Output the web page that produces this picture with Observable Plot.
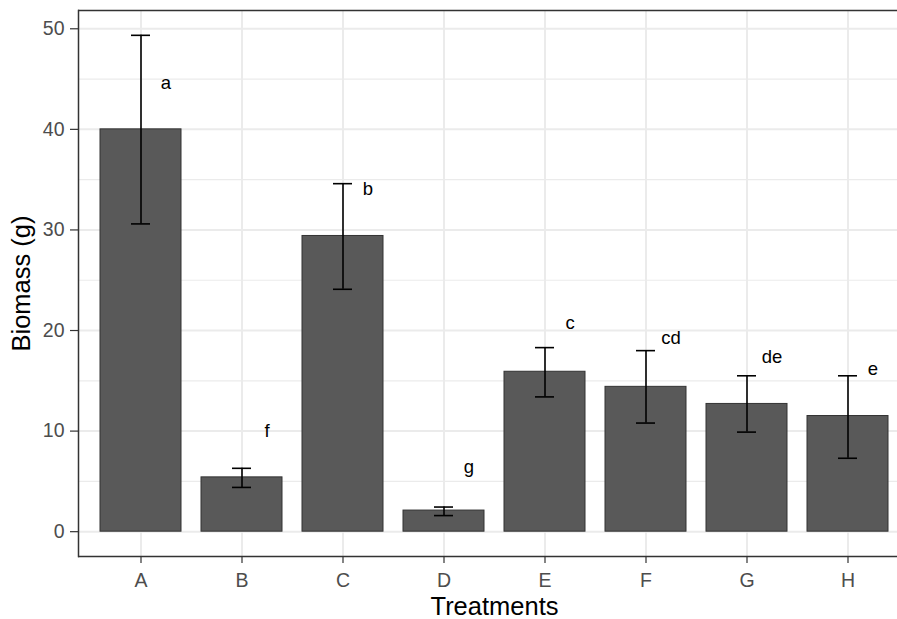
<!DOCTYPE html>
<html>
<head>
<meta charset="utf-8">
<script src="https://cdn.jsdelivr.net/npm/d3@7"></script>
<script src="https://cdn.jsdelivr.net/npm/@observablehq/plot@0.6"></script>
<style>
  html, body { margin: 0; padding: 0; background: #ffffff; overflow: hidden; width: 897px; height: 619px; }
  #chart { width: 897px; height: 619px; overflow: hidden; }
  #chart svg { max-width: none !important; display: block; }
</style>
</head>
<body>
<div id="chart"></div>
<script>
// Data
const treatments = ["A", "B", "C", "D", "E", "F", "G", "H"];
const biomass    = [40.0, 5.4, 29.4, 2.1, 15.9, 14.4, 12.7, 11.5];
const errLow     = [30.6, 4.4, 24.1, 1.6, 13.4, 10.8, 9.9, 7.3];
const errHigh    = [49.35, 6.3, 34.6, 2.45, 18.3, 18.0, 15.5, 15.5];
const letters    = ["a", "f", "b", "g", "c", "cd", "de", "e"];
const letterY    = [44.6, 10.0, 34.1, 6.4, 20.7, 19.2, 17.4, 16.2];
const yTicks     = [0, 10, 20, 30, 40, 50];
const yMinor     = [5, 15, 25, 35, 45];

const data = treatments.map((t, i) => ({
  treatment: t, biomass: biomass[i], lo: errLow[i], hi: errHigh[i],
  letter: letters[i], ly: letterY[i]
}));

const yMax = d3.max(errHigh);
const pad = yMax * 0.05;
const yDomain = [-pad, yMax + pad];
const font = "'Liberation Sans', Arial, sans-serif";

const chart = Plot.plot({
  width: 912,
  height: 619,
  marginLeft: 78,
  marginRight: 2,
  marginTop: 10,
  marginBottom: 63,
  style: { fontFamily: font, background: "#ffffff" },
  x: { type: "band", domain: treatments, paddingInner: 0.2, paddingOuter: 0.2 },
  y: { domain: yDomain },
  marks: [
    Plot.gridY(yMinor, { stroke: "#EBEBEB", strokeOpacity: 1, strokeWidth: 1.2 }),
    Plot.gridY(yTicks, { stroke: "#EBEBEB", strokeOpacity: 1, strokeWidth: 2 }),
    Plot.gridX(treatments, { stroke: "#EBEBEB", strokeOpacity: 1, strokeWidth: 2 }),
    Plot.barY(data, { x: "treatment", y: "biomass", fill: "#595959", stroke: "#333333", strokeWidth: 1 }),
    Plot.ruleX(data, { x: "treatment", y1: "lo", y2: "hi", stroke: "#000000", strokeWidth: 1.6 }),
    Plot.tickY(data, { x: "treatment", y: "lo", stroke: "#000000", strokeWidth: 1.6, insetLeft: 31, insetRight: 31 }),
    Plot.tickY(data, { x: "treatment", y: "hi", stroke: "#000000", strokeWidth: 1.6, insetLeft: 31, insetRight: 31 }),
    Plot.text(data, { x: "treatment", y: "ly", text: "letter", dx: 25, fontSize: 18.5, fill: "#000000", fontFamily: font }),
    Plot.ruleY(yDomain, { stroke: "#333333", strokeWidth: 1.5 }),
    Plot.frame({ anchor: "left", stroke: "#333333", strokeWidth: 1.5 }),
    Plot.axisY(yTicks, { tickSize: 8, tickPadding: 6, fontSize: 19.5, stroke: "#333333", fill: "#4D4D4D", label: null, strokeWidth: 1.2 }),
    Plot.axisX(treatments, { tickSize: 7, tickPadding: 10, fontSize: 19.5, stroke: "#333333", fill: "#4D4D4D", label: null, strokeWidth: 1.2 }),
    Plot.text(["Biomass (g)"], { frameAnchor: "left", textAnchor: "middle", lineAnchor: "middle", rotate: -90, dx: -57, fontSize: 25.5, fill: "#000000", fontFamily: font }),
    Plot.text(["Treatments"], { frameAnchor: "bottom", textAnchor: "middle", lineAnchor: "middle", dy: 50, fontSize: 25.5, fill: "#000000", fontFamily: font })
  ]
});

document.getElementById("chart").appendChild(chart);
</script>
</body>
</html>
